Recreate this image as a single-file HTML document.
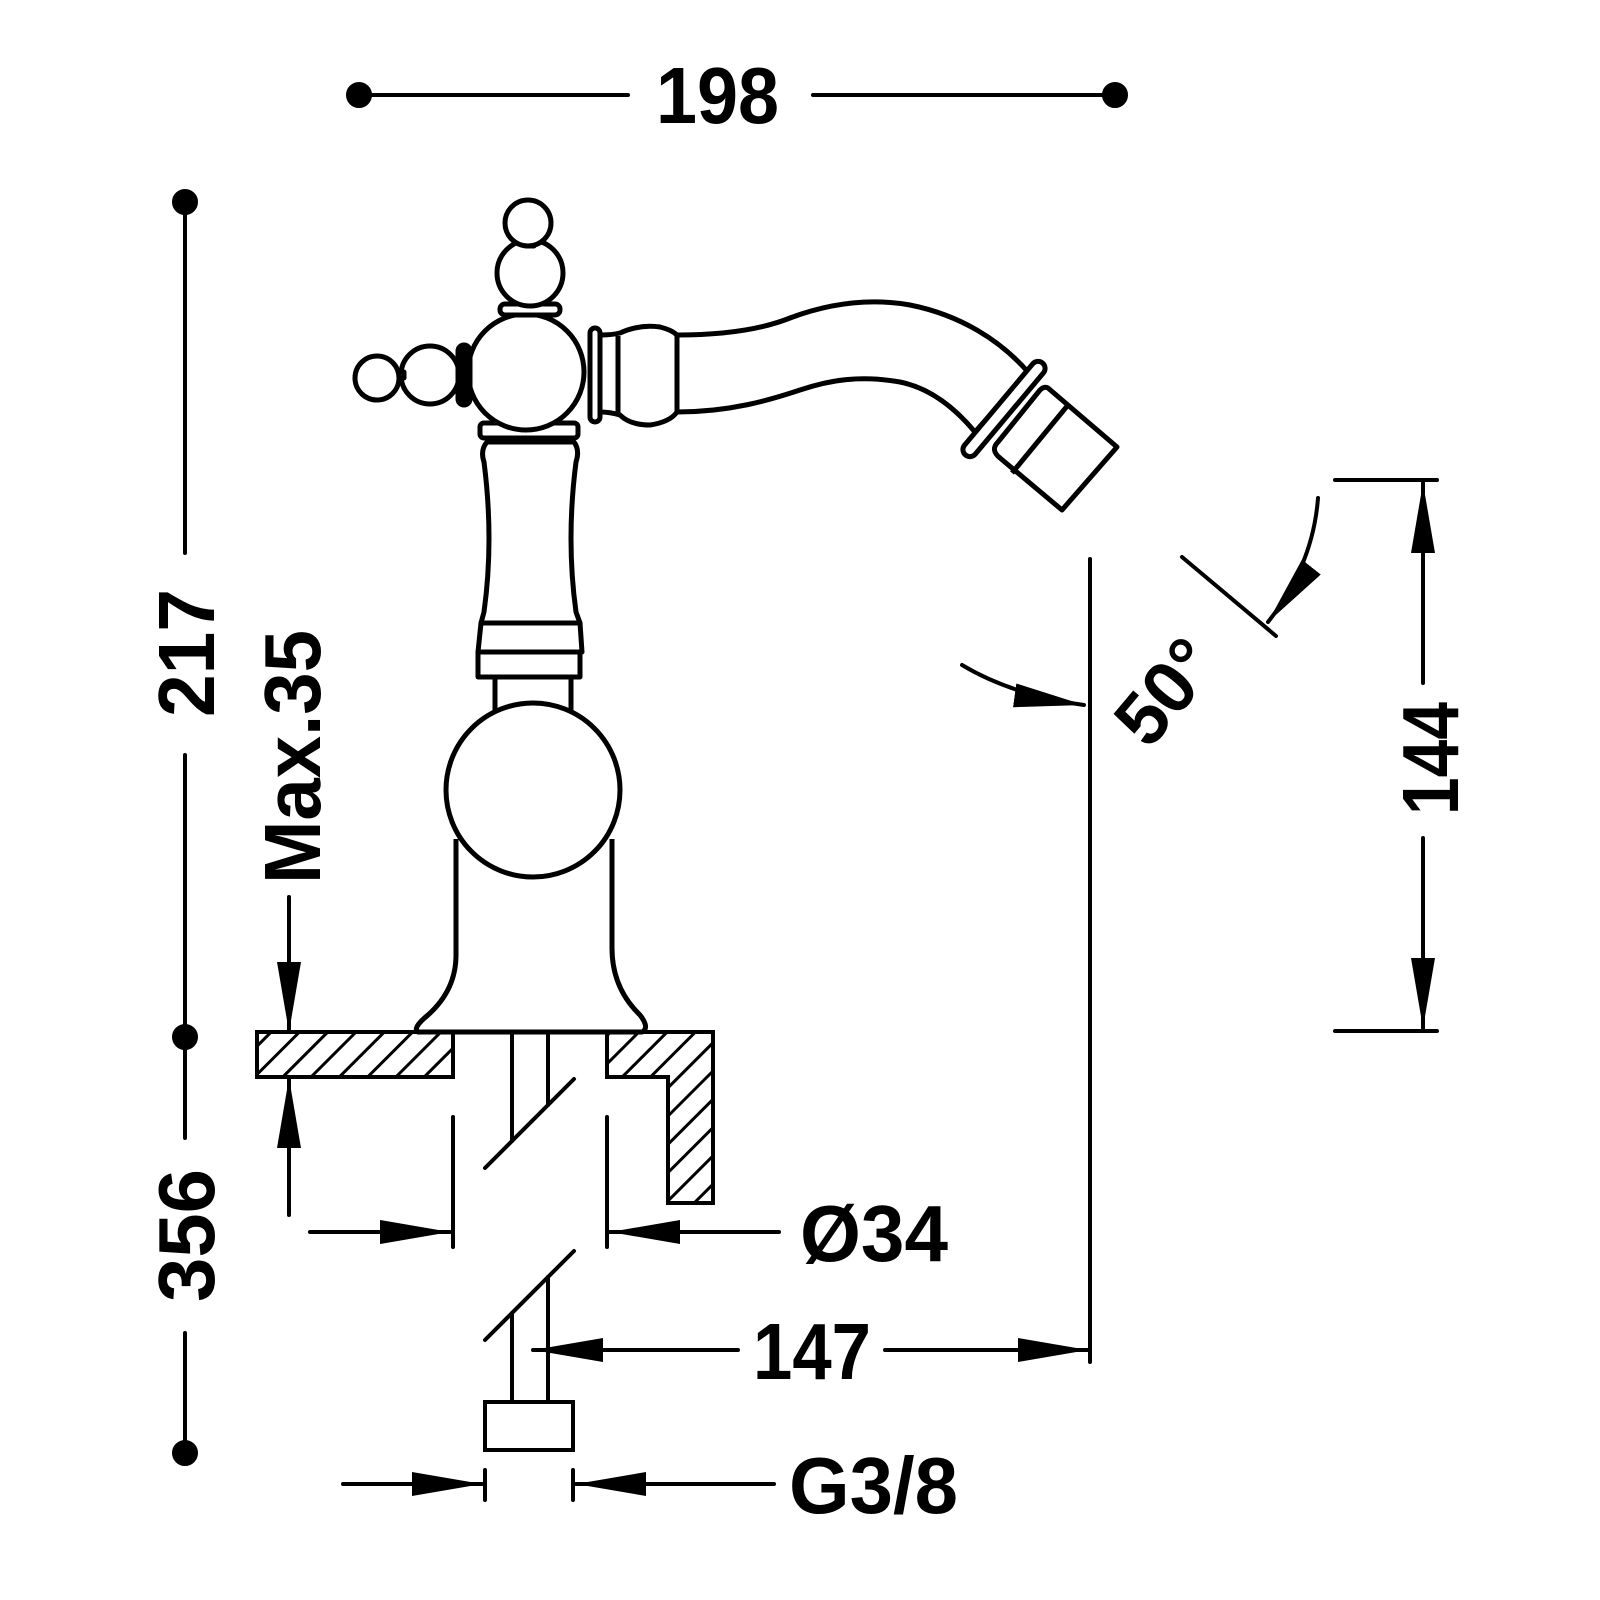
<!DOCTYPE html>
<html><head><meta charset="utf-8"><style>html,body{margin:0;padding:0;background:#fff}svg{display:block}</style></head>
<body>
<svg width="1600" height="1600" viewBox="0 0 1600 1600" xmlns="http://www.w3.org/2000/svg">
<defs>
<marker id="ah" markerWidth="72" markerHeight="24" refX="70" refY="12" orient="auto" markerUnits="userSpaceOnUse">
<path d="M0,0 L70,12 L0,24 Z" fill="#000"/></marker>
<pattern id="hatch" width="20" height="20" patternUnits="userSpaceOnUse" patternTransform="rotate(45)">
<line x1="0" y1="0" x2="0" y2="20" stroke="#000" stroke-width="6"/></pattern>
</defs>
<g stroke="#000" stroke-width="4" fill="none" stroke-linecap="round">
<circle cx="359" cy="95" r="11" fill="#000"/><circle cx="1115" cy="95" r="11" fill="#000"/>
<line x1="371" y1="95" x2="628" y2="95"/><line x1="813" y1="95" x2="1110" y2="95"/>
<circle cx="185" cy="202" r="11" fill="#000"/><circle cx="185" cy="1037" r="11" fill="#000"/><circle cx="185" cy="1453" r="11" fill="#000"/>
<line x1="185" y1="212" x2="185" y2="553"/><line x1="185" y1="755" x2="185" y2="1025"/>
<line x1="185" y1="1050" x2="185" y2="1138"/><line x1="185" y1="1333" x2="185" y2="1440"/>
<line x1="289" y1="897" x2="289" y2="1032" marker-end="url(#ah)"/>
<line x1="289" y1="1215" x2="289" y2="1078" marker-end="url(#ah)"/>
<path d="M257,1032 H453 V1077 H257 Z" fill="url(#hatch)"/>
<path d="M607,1032 H713 V1203 H668 V1077 H607 Z" fill="url(#hatch)"/>
<line x1="453" y1="1032" x2="607" y2="1032"/>
<line x1="512" y1="1032" x2="512" y2="1141"/><line x1="548" y1="1032" x2="548" y2="1105"/>
<line x1="485" y1="1168" x2="574" y2="1079"/>
<line x1="485" y1="1340" x2="574" y2="1251"/>
<line x1="512" y1="1313" x2="512" y2="1402"/><line x1="548" y1="1277" x2="548" y2="1402"/>
<rect x="485" y="1402" width="88" height="48"/>
<line x1="453" y1="1117" x2="453" y2="1247"/><line x1="607" y1="1117" x2="607" y2="1247"/>
<line x1="310" y1="1232" x2="450" y2="1232" marker-end="url(#ah)"/>
<line x1="779" y1="1232" x2="610" y2="1232" marker-end="url(#ah)"/>
<line x1="738" y1="1350" x2="533" y2="1350" marker-end="url(#ah)"/>
<line x1="885" y1="1350" x2="1088" y2="1350" marker-end="url(#ah)"/>
<line x1="1090" y1="559" x2="1090" y2="1362"/>
<line x1="485" y1="1470" x2="485" y2="1500"/><line x1="573" y1="1470" x2="573" y2="1500"/>
<line x1="343" y1="1484" x2="482" y2="1484" marker-end="url(#ah)"/>
<line x1="774" y1="1484" x2="576" y2="1484" marker-end="url(#ah)"/>
<line x1="1335" y1="480" x2="1437" y2="480"/><line x1="1335" y1="1031" x2="1437" y2="1031"/>
<line x1="1423" y1="683" x2="1423" y2="483" marker-end="url(#ah)"/>
<line x1="1423" y1="838" x2="1423" y2="1028" marker-end="url(#ah)"/>
<line x1="1182" y1="557" x2="1276" y2="636"/>
<path d="M1318,498 Q1313,565 1268,622" marker-end="url(#ah)"/>
<path d="M962,665 Q1012,695 1084,705" marker-end="url(#ah)"/>
</g>
<g stroke="#000" stroke-width="5" fill="#fff" stroke-linejoin="round">
<path d="M456,839 V955 Q456,990 428,1015 Q412,1028 418,1032 H642 Q650,1028 640,1015 Q612,988 612,948 V839"/>
<rect x="495" y="672" width="76" height="40"/>
<circle cx="533" cy="790" r="87"/>
<path d="M677,335 C720,335 760,330 790,318 C830,303 870,298 910,305 C960,315 1000,340 1028,372 L975,432 C955,408 930,388 900,382 C860,375 830,380 800,390 C770,400 730,412 677,412 Z"/>
<rect x="478" y="652" width="102" height="25"/>
<path d="M481,623 H580 L582,652 H478 Z"/>
<path d="M487,442 Q480,450 484,462 Q494,540 484,612 L481,623 H580 L576,612 Q566,540 576,462 Q580,450 574,442 Z"/>
<rect x="480" y="423" width="98" height="15" rx="4"/>
<circle cx="526" cy="372" r="58"/>
<rect x="513" y="299" width="34" height="8"/>
<rect x="500" y="304" width="60" height="11" rx="5"/>
<circle cx="530" cy="273" r="33"/>
<rect x="526" y="238" width="8" height="8"/>
<circle cx="528" cy="223" r="23"/>
<circle cx="430" cy="375" r="29"/>
<rect x="398" y="372" width="6" height="6"/>
<circle cx="377" cy="378" r="22"/>
<rect x="458" y="345" width="12" height="60" rx="6" fill="#000"/>
<path d="M600,335 Q612,335 620,333 Q640,324 660,327 Q672,330 677,335 V412 Q670,422 650,425 Q630,425 620,415 Q610,412 600,412 Z"/>
<line x1="618" y1="336" x2="618" y2="413"/>
<rect x="590" y="328" width="10" height="94" rx="5"/>
<g transform="translate(1004,409) rotate(-50)"><rect x="-60" y="-7" width="120" height="14" rx="7"/></g>
<path d="M1048,388 L1117,447 L1062,510 L1000,458 Q990,450 998,442 L1040,390 Q1044,386 1048,388 Z"/>
<line x1="1068" y1="405" x2="1012" y2="473"/>
</g>
<g font-family="Liberation Sans, sans-serif" font-weight="bold" font-size="80" fill="#000">
<text x="656" y="123" textLength="123" lengthAdjust="spacingAndGlyphs">198</text>
<text transform="translate(214,717) rotate(-90)" textLength="128" lengthAdjust="spacingAndGlyphs">217</text>
<text transform="translate(214,1302) rotate(-90)" textLength="133" lengthAdjust="spacingAndGlyphs">356</text>
<text transform="translate(320,884) rotate(-90)" textLength="254" lengthAdjust="spacingAndGlyphs">Max.35</text>
<text x="800" y="1261" textLength="148" lengthAdjust="spacingAndGlyphs">Ø34</text>
<text x="753" y="1379" textLength="118" lengthAdjust="spacingAndGlyphs">147</text>
<text x="789" y="1513" textLength="169" lengthAdjust="spacingAndGlyphs">G3/8</text>
<text transform="translate(1458,815) rotate(-90)" textLength="113" lengthAdjust="spacingAndGlyphs">144</text>
<text transform="translate(1185,708) rotate(-50)" text-anchor="middle" font-size="74">50°</text>
</g>
</svg>
</body></html>
